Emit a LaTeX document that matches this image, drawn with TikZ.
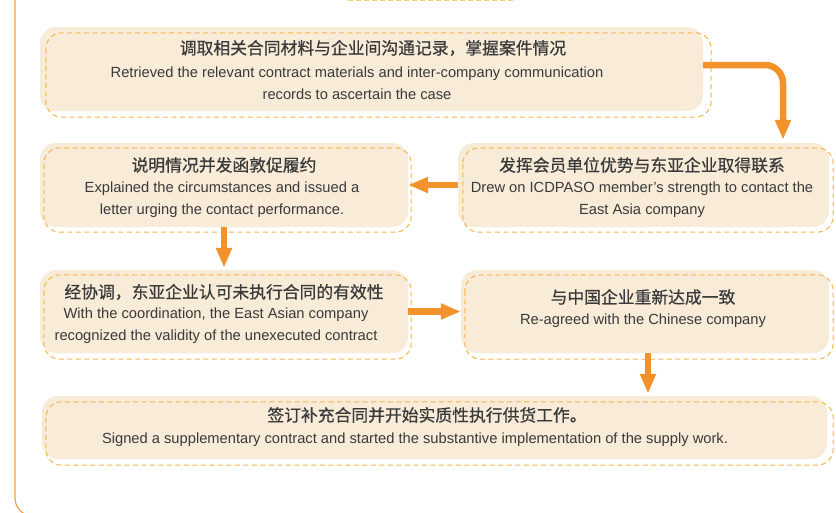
\documentclass[tikz,border=0pt]{standalone}
\usepackage{fontspec}
\setmainfont{Liberation Sans}
\newfontfamily\cjk[FakeBold=0.6]{Noto Sans CJK SC}
\usetikzlibrary{arrows.meta}
\definecolor{boxfill}{HTML}{F8EBD8}
\definecolor{dashc}{HTML}{F7B44A}
\definecolor{arrc}{HTML}{F3922A}
\definecolor{framec}{HTML}{F0A04B}
\definecolor{txtc}{HTML}{3A3A3A}
\begin{document}
\begin{tikzpicture}[x=1pt,y=-1pt,
 box/.style={fill=boxfill, rounded corners=16pt, inner sep=0pt, draw=none},
 dashbox/.style={draw=dashc, dash pattern=on 5pt off 3.5pt, line width=1pt, rounded corners=16pt},
 arr/.style={draw=arrc, line width=6.5pt, -{Triangle[width=15pt,length=20pt]}},
 zh/.style={font=\cjk\fontsize{16.8}{20}\selectfont, text=txtc, inner sep=0pt},
 en/.style={font=\fontsize{14.7}{22}\selectfont, text=txtc, align=center, inner sep=0pt}]
\useasboundingbox (0,0) rectangle (836,512);
% frame
\draw[framec, line width=1.2pt, rounded corners=18pt] (15,-40) -- (15,516) -- (900,516);
\draw[dashc!70, dash pattern=on 5pt off 3pt, line width=1pt] (348,0.5) -- (516,0.5);
% boxes
\node[box, minimum width=663pt, minimum height=84pt] (b1) at (371.5,69) {};
\node[box, minimum width=368pt, minimum height=84pt] (b2) at (224,185) {};
\node[box, minimum width=371pt, minimum height=84pt] (b3) at (643.5,185) {};
\node[box, minimum width=368pt, minimum height=83pt] (b4) at (224,311.5) {};
\node[box, minimum width=368pt, minimum height=83pt] (b5) at (645,311.5) {};
\node[box, minimum width=785pt, minimum height=63pt] (b6) at (434.5,427.5) {};
\draw[dashbox] ([shift={(6,6)}]b1.north west) rectangle ([shift={(8,6)}]b1.south east);
\draw[dashbox] ([shift={(4,5)}]b2.north west) rectangle ([shift={(3,5)}]b2.south east);
\draw[dashbox] ([shift={(5,5)}]b3.north west) rectangle ([shift={(4,5)}]b3.south east);
\draw[dashbox] ([shift={(4,5)}]b4.north west) rectangle ([shift={(3,6)}]b4.south east);
\draw[dashbox] ([shift={(4,5)}]b5.north west) rectangle ([shift={(4,6)}]b5.south east);
\draw[dashbox] ([shift={(4,6)}]b6.north west) rectangle ([shift={(6,6)}]b6.south east);
% texts
\node[zh] (t1z) at (373,48) {调取相关合同材料与企业间沟通记录，掌握案件情况};
\node[en] (t1e) at (357,83) {Retrieved the relevant contract materials and inter-company communication\\records to ascertain the case};
\node[zh] (t2z) at (224,165) {说明情况并发函敦促履约};
\node[en] (t2e) at (222,200) {Explained the circumstances and issued a\\letter urging the contact performance.};
\node[zh] (t3z) at (642,165) {发挥会员单位优势与东亚企业取得联系};
\node[en] (t3e) at (642,200) {Drew on ICDPASO member’s strength to contact the\\East Asia company};
\node[zh] (t4z) at (224,292) {经协调，东亚企业认可未执行合同的有效性};
\node[en] (t4e) at (216,326) {With the coordination, the East Asian company\\recognized the validity of the unexecuted contract};
\node[zh] (t5z) at (643,297) {与中国企业重新达成一致};
\node[en] (t5e) at (643,321) {Re-agreed with the Chinese company};
\node[zh] (t6z) at (427,415) {签订补充合同并开始实质性执行供货工作。};
\node[en] (t6e) at (415,440) {Signed a supplementary contract and started the substantive implementation of the supply work.};
% arrows
\coordinate (c1) at (783,65);
\draw[arr, rounded corners=18pt, shorten >=3pt] (b1.east |- c1) -- (c1) -- (c1 |- b3.north);
\draw[arr] (b3.west) -- (b2.east);
\draw[arr, shorten >=2pt] (b2.south) -- (b4.north);
\draw[arr] (b4.east) -- (b5.west);
\draw[arr, shorten >=2pt] ([xshift=3pt]b5.south) -- ([xshift=3pt]b5.south |- b6.north);
\end{tikzpicture}
\end{document}
